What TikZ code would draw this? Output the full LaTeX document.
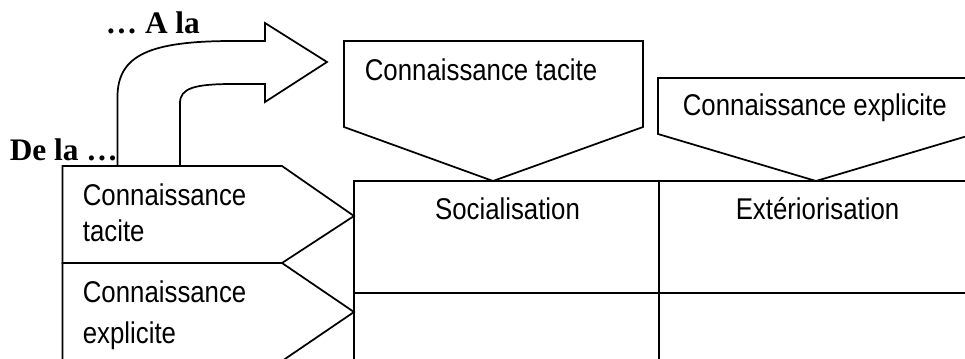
\documentclass[tikz,border=0pt]{standalone}
\usepackage{fontspec}
\setmainfont[FakeStretch=0.86]{Liberation Sans}
\newfontfamily\titlefont{Liberation Serif}
\begin{document}
\begin{tikzpicture}[x=0.75pt,y=-0.75pt,line width=1.3pt,line join=miter,
  lbl/.style={inner sep=0pt,anchor=base west,font=\fontsize{22.5}{27}\selectfont},
  clbl/.style={inner sep=0pt,anchor=base,font=\fontsize{22.5}{27}\selectfont},
  ttl/.style={inner sep=0pt,anchor=base west,font=\titlefont\bfseries\fontsize{23.5}{28}\selectfont},
  shp/.style={draw=black,fill=white}]
\useasboundingbox (0,0) rectangle (965,358);
\begin{scope}
\clip (0,0) rectangle (965,358);
% matrix grid
\draw[shp] (354,181) rectangle (975,405);
\draw (659,181) -- (659,405);
\draw (354,293) -- (975,293);
% left pentagons (rows)
\draw[shp] (62.5,166) -- (282,166) -- (354,216) -- (282,263) -- (62.5,263) -- cycle;
\draw[shp] (62.5,263) -- (282,263) -- (354,312) -- (282,361) -- (62.5,361) -- cycle;
% top pentagons (columns)
\draw[shp] (344,41) -- (643,41) -- (643,127) -- (493,181) -- (344,127) -- cycle;
\draw[shp] (658,78) -- (974,78) -- (974,134) -- (816,181) -- (658,134) -- cycle;
% bent arrow
\draw (117.5,166) -- (117.5,97) .. controls (117.5,55) and (150,41) .. (233,41) -- (265,41)
  -- (265,23) -- (327,62) -- (265,102) -- (265,84) -- (233,84)
  .. controls (195,84) and (180,88) .. (180,103) -- (180,166);
\end{scope}
% texts
\node[ttl] (ala) at (105,33) {… A la};
\node[ttl] (dela) at (9,160) {De la …};
\node[lbl] (colt) at (364,80) {Connaissance tacite};
\node[lbl] (cole) at (682,115) {Connaissance explicite};
\node[lbl] (r1a) at (82,205) {Connaissance};
\node[lbl] (r1b) at (82,241) {tacite};
\node[lbl] (r2a) at (82,302) {Connaissance};
\node[lbl] (r2b) at (82,343) {explicite};
\node[clbl] (soc) at (507.5,219) {Socialisation};
\node[clbl] (ext) at (817.5,219) {Extériorisation};
\end{tikzpicture}
\end{document}
